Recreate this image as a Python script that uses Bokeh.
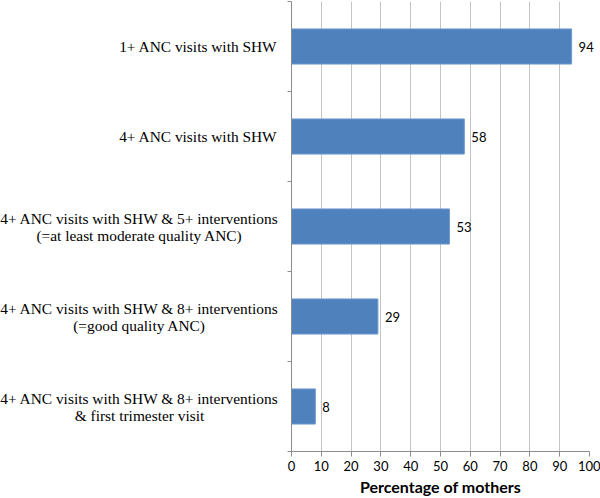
from bokeh.plotting import figure
from bokeh.models import Range1d, FixedTicker, ColumnDataSource
from bokeh.core.properties import value
from bokeh.embed import file_html
from bokeh.resources import INLINE

categories = [
    ["1+ ANC visits with SHW"],
    ["4+ ANC visits with SHW"],
    ["4+ ANC visits with SHW & 5+ interventions", "(=at least moderate quality ANC)"],
    ["4+ ANC visits with SHW & 8+ interventions", "(=good quality ANC)"],
    ["4+ ANC visits with SHW & 8+ interventions", "& first trimester visit"],
]
values = [94, 58, 53, 29, 8]
x_ticks = [0, 10, 20, 30, 40, 50, 60, 70, 80, 90, 100]
x_title = "Percentage of mothers"

n = len(categories)
centers = [n - i - 0.5 for i in range(n)]
boundaries = list(range(n + 1))

AX = "#8c8c8c"
p = figure(width=600, height=498, output_backend="svg", toolbar_location=None,
           x_range=Range1d(0, 100), y_range=Range1d(0, n),
           min_border_left=291, min_border_right=11, min_border_top=1, min_border_bottom=47)
p.outline_line_color = None
p.background_fill_color = "white"

src = ColumnDataSource(dict(y=centers, v=values, lab=[str(v) for v in values]))
p.hbar(y="y", left=0, right="v", height=0.39, source=src,
       fill_color="#4F81BD", line_color="#6E9AD0", line_width=1)
r = p.text(x="v", y="y", text="lab", source=src, x_offset=7, text_baseline="middle",
           text_align="left", text_font=value("Lato"), text_font_size="13px", text_color="black")
r.level = "overlay"

# category labels (serif); single lines right-aligned, two-line labels centred
STANDOFF = 14
HALF_W = 138
LINE = 8.5
FS = "15.4px"
right_rows = dict(x=[], y=[], t=[])
centre_rows = dict(x=[], y=[], t=[], dy=[])
for yc, lines in zip(centers, categories):
    if len(lines) == 1:
        right_rows["x"].append(0)
        right_rows["y"].append(yc)
        right_rows["t"].append(lines[0])
    else:
        for k, t in enumerate(lines):
            centre_rows["x"].append(0)
            centre_rows["y"].append(yc)
            centre_rows["t"].append(t)
            centre_rows["dy"].append(-LINE + 2 * LINE * k)

r1 = p.text(x="x", y="y", text="t", source=ColumnDataSource(right_rows), x_offset=-STANDOFF,
            text_align="right", text_baseline="middle", text_font=value("Liberation Serif"),
            text_font_size=FS, text_color="black")
r1.level = "overlay"
r2 = p.text(x="x", y="y", text="t", source=ColumnDataSource(centre_rows),
            x_offset=-STANDOFF - HALF_W, y_offset="dy",
            text_align="center", text_baseline="middle", text_font=value("Liberation Serif"),
            text_font_size=FS, text_color="black")
r2.level = "overlay"

# x axis
p.xaxis.ticker = FixedTicker(ticks=x_ticks)
p.xaxis.axis_label = x_title
p.xaxis.axis_label_text_font = "Lato"
p.xaxis.axis_label_text_font_style = "bold"
p.xaxis.axis_label_text_font_size = "16px"
p.xaxis.axis_label_text_color = "black"
p.xaxis.axis_label_standoff = 3
p.xaxis.major_label_text_font = "Lato"
p.xaxis.major_label_text_font_size = "13px"
p.xaxis.major_label_text_color = "black"
p.xaxis.major_label_standoff = 4
p.xaxis.major_tick_in = 0
p.xaxis.major_tick_out = 5
p.xaxis.minor_tick_out = 0
p.xaxis.axis_line_color = AX
p.xaxis.major_tick_line_color = AX

# y axis: ticks at category boundaries, no tick labels
p.yaxis.ticker = FixedTicker(ticks=boundaries)
p.yaxis.major_label_overrides = {b: "" for b in boundaries}
p.yaxis.major_tick_in = 0
p.yaxis.major_tick_out = 4
p.yaxis.minor_tick_out = 0
p.yaxis.major_tick_line_color = AX
p.yaxis.axis_line_color = AX

p.xgrid.grid_line_color = "#c4c4c4"
p.ygrid.grid_line_color = None

open("out.html", "w").write(file_html(p, INLINE))
